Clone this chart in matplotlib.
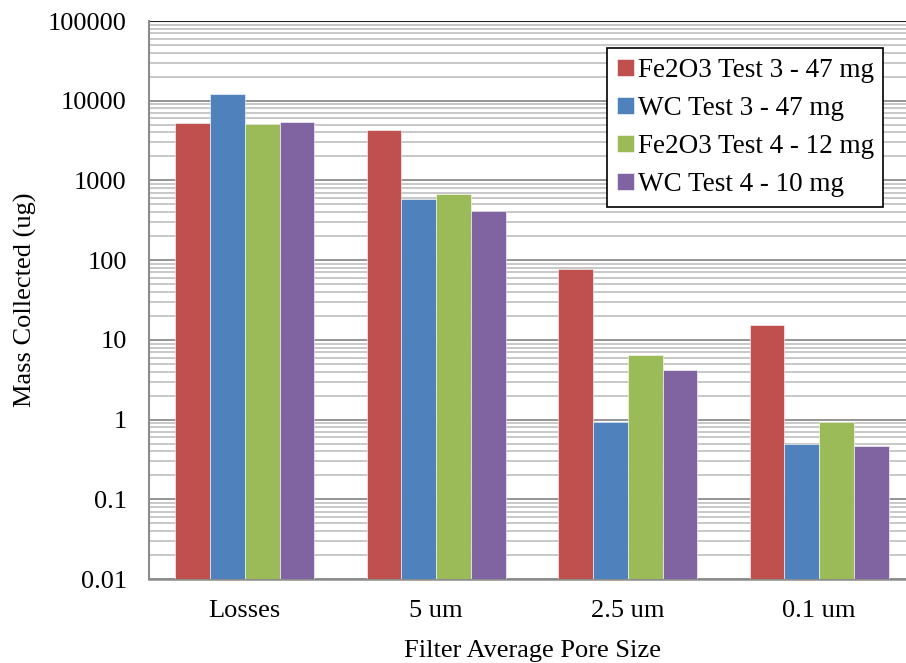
import matplotlib.pyplot as plt
import numpy as np
from matplotlib.ticker import LogLocator, FixedFormatter, FixedLocator

plt.rcParams['font.family'] = ['Liberation Serif', 'DejaVu Serif']

# Mass collected on each filter stage (ug)
categories = ["Losses", "5 um", "2.5 um", "0.1 um"]
series_names = ["Fe2O3 Test 3 - 47 mg", "WC Test 3 - 47 mg",
                "Fe2O3 Test 4 - 12 mg", "WC Test 4 - 10 mg"]
fe2o3_test3 = [5250, 4300, 77, 15.2]
wc_test3 = [12100, 590, 0.92, 0.49]
fe2o3_test4 = [5150, 680, 6.4, 0.92]
wc_test4 = [5400, 415, 4.2, 0.46]
ytick_labels = ["0.01", "0.1", "1", "10", "100", "1000", "10000", "100000"]

colors = ["#C0504D", "#4F81BD", "#9BBB59", "#8064A2"]
series = [fe2o3_test3, wc_test3, fe2o3_test4, wc_test4]

fig = plt.figure(figsize=(9.06, 6.63), dpi=100)
ax = fig.add_axes([149 / 906, 1 - 579 / 663, (915 - 149) / 906, (579 - 21) / 663])

x = np.arange(len(categories))
w = 0.182
for i, (vals, c, name) in enumerate(zip(series, colors, series_names)):
    ax.bar(x + (i - 1.5) * w, vals, w, color=c, label=name,
           edgecolor="white", linewidth=0.4, zorder=3)

ax.set_yscale("log")
ax.set_ylim(0.01, 100000)
ax.set_xlim(-0.5, 3.5)
ax.yaxis.set_major_locator(FixedLocator([10.0 ** k for k in range(-2, 6)]))
ax.yaxis.set_major_formatter(FixedFormatter(ytick_labels))
ax.yaxis.set_minor_locator(LogLocator(base=10, subs=np.arange(2, 10), numticks=20))
ax.yaxis.set_minor_formatter(plt.NullFormatter())
ax.grid(axis="y", which="major", color="#8c8c8c", linewidth=1.3, zorder=0)
ax.grid(axis="y", which="minor", color="#c4c4c4", linewidth=1.3, zorder=0)
ax.set_axisbelow(True)

ax.set_xticks(x)
ax.set_xticklabels(categories)
ax.tick_params(axis="both", which="both", length=0, labelsize=19)
ax.tick_params(axis="x", pad=15)
ax.tick_params(axis="y", pad=16)

for s in ["top", "right"]:
    ax.spines[s].set_visible(False)
ax.spines["left"].set_color("#8c8c8c")
ax.spines["bottom"].set_color("#8c8c8c")
ax.spines["left"].set_linewidth(1.5)
ax.spines["bottom"].set_linewidth(1.8)
ax.axhline(100000, color="#222222", linewidth=1.5, zorder=1)

ax.set_xlabel("Filter Average Pore Size", fontsize=19, labelpad=13)
ax.set_ylabel("Mass Collected (ug)", fontsize=19, labelpad=8)

leg = ax.legend(loc="upper left", bbox_to_anchor=((607 - 149) / 766, 1 - (48 - 21) / 558),
                fontsize=19.5, frameon=True, fancybox=False, handlelength=0.62,
                handleheight=0.6, handletextpad=0.15, labelspacing=0.48,
                borderpad=0.36, borderaxespad=0)
leg.get_frame().set_edgecolor("black")
leg.get_frame().set_linewidth(1.2)
leg.get_frame().set_alpha(1)

fig.savefig("out.png", dpi=100)
